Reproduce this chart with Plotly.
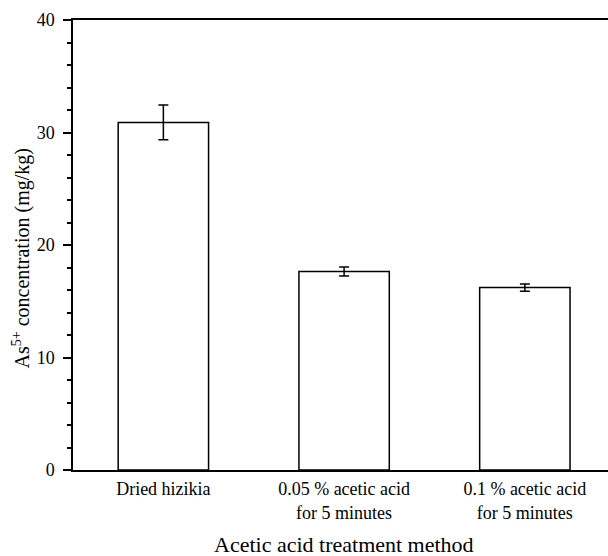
import plotly.graph_objects as go

categories = ["Dried hizikia", "0.05 % acetic acid<br>for 5 minutes", "0.1 % acetic acid<br>for 5 minutes"]
positions = [1, 2, 3]
values = [30.9, 17.65, 16.22]
errors = [1.55, 0.4, 0.32]
y_ticks = [0, 10, 20, 30, 40]

FONT = "Liberation Serif"

fig = go.Figure()
fig.add_trace(go.Bar(
    x=positions, y=values, width=0.5,
    marker=dict(color="white", line=dict(color="black", width=1.5)),
    error_y=dict(type="data", array=errors, visible=True, color="black", thickness=1.5, width=5),
    showlegend=False,
))

fig.update_layout(
    width=608, height=556,
    margin=dict(l=73, r=0, t=20, b=86),
    paper_bgcolor="white", plot_bgcolor="white",
    font=dict(family=FONT, size=18, color="black"),
    xaxis=dict(
        range=[0.5, 3.46], tickvals=positions, ticktext=categories,
        showline=True, linecolor="black", linewidth=1.5, mirror=True,
        ticks="", showgrid=False, zeroline=False,
        tickfont=dict(family=FONT, size=18, color="black"), ticklabelstandoff=2,
    ),
    yaxis=dict(
        range=[0, 40], tickvals=y_ticks,
        showline=True, linecolor="black", linewidth=1.5,
        ticks="outside", ticklen=8, tickwidth=1.5, tickcolor="black",
        minor=dict(dtick=2, ticks="outside", ticklen=4, tickwidth=1.5, tickcolor="black"),
        showgrid=False, zeroline=False,
        tickfont=dict(family=FONT, size=18, color="black"), ticklabelstandoff=5,
    ),
    annotations=[
        dict(text="Acetic acid treatment method", xref="x", yref="paper", x=2, y=0,
             yshift=-74, showarrow=False, font=dict(family=FONT, size=22, color="black"),
             yanchor="middle"),
        dict(text="As<sup>5+</sup> concentration (mg/kg)", xref="paper", yref="paper", x=0, y=0.47,
             xshift=-52, showarrow=False, textangle=-90, font=dict(family=FONT, size=20, color="black"),
             xanchor="center", yanchor="middle"),
    ],
)

fig.write_html("out.html")
